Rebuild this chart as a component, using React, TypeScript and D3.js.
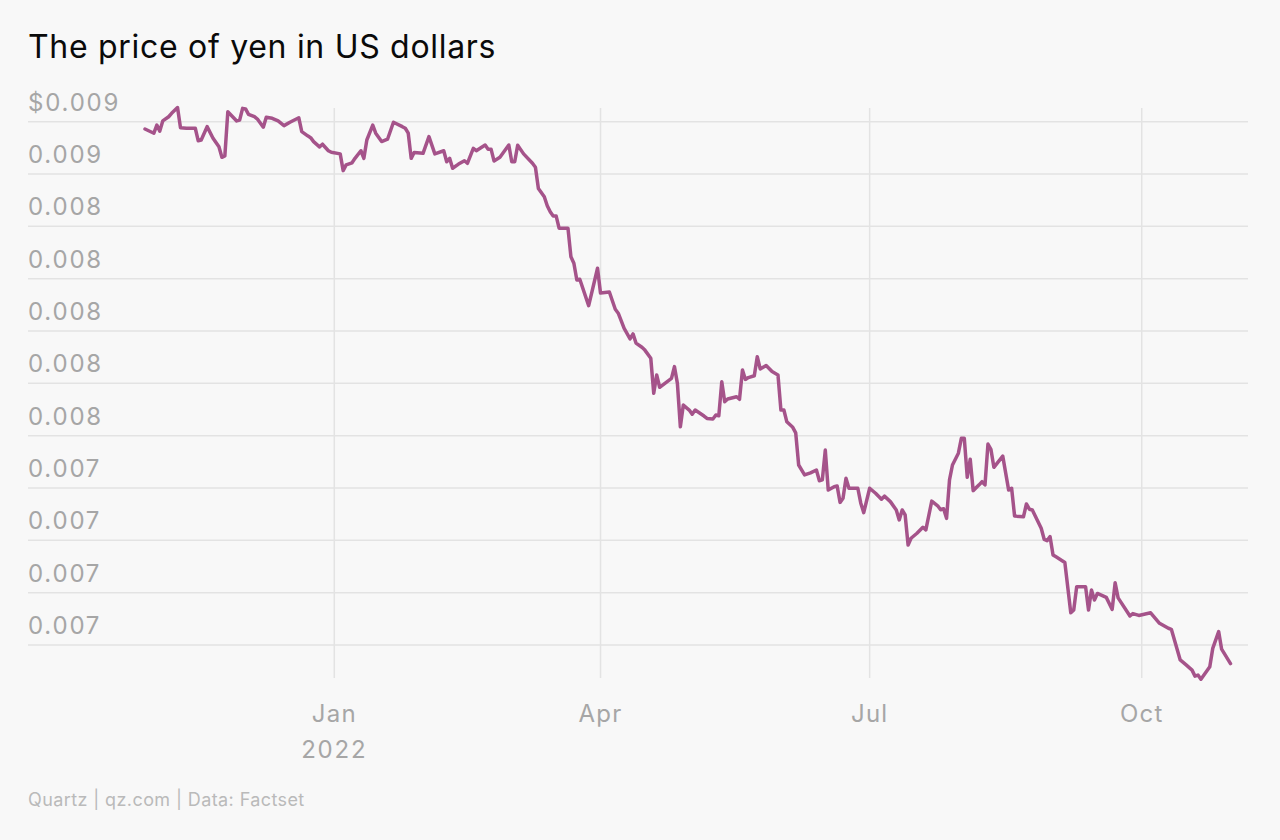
import React from "react";
import * as d3 from "d3";

const dates = [
  "2021-10-29","2021-11-01","2021-11-02","2021-11-03","2021-11-04","2021-11-06","2021-11-07","2021-11-09","2021-11-10","2021-11-12",
  "2021-11-15","2021-11-16","2021-11-17","2021-11-19","2021-11-21","2021-11-23","2021-11-24","2021-11-25","2021-11-26","2021-11-29",
  "2021-11-30","2021-12-01","2021-12-02","2021-12-03","2021-12-05","2021-12-06","2021-12-08","2021-12-09","2021-12-11","2021-12-13",
  "2021-12-15","2021-12-17","2021-12-20","2021-12-21","2021-12-23","2021-12-24","2021-12-25","2021-12-27","2021-12-28","2021-12-30",
  "2021-12-31","2022-01-03","2022-01-04","2022-01-05","2022-01-07","2022-01-08","2022-01-10","2022-01-11","2022-01-12","2022-01-14",
  "2022-01-15","2022-01-17","2022-01-19","2022-01-21","2022-01-24","2022-01-25","2022-01-26","2022-01-27","2022-01-28","2022-01-31",
  "2022-02-02","2022-02-04","2022-02-07","2022-02-08","2022-02-09","2022-02-10","2022-02-12","2022-02-14","2022-02-15","2022-02-17",
  "2022-02-18","2022-02-21","2022-02-22","2022-02-23","2022-02-24","2022-02-26","2022-03-01","2022-03-02","2022-03-03","2022-03-04",
  "2022-03-06","2022-03-09","2022-03-10","2022-03-11","2022-03-13","2022-03-14","2022-03-15","2022-03-16","2022-03-17","2022-03-18",
  "2022-03-21","2022-03-22","2022-03-23","2022-03-24","2022-03-25","2022-03-28","2022-03-31","2022-04-01","2022-04-04","2022-04-06",
  "2022-04-07","2022-04-09","2022-04-11","2022-04-12","2022-04-13","2022-04-15","2022-04-16","2022-04-18","2022-04-19","2022-04-20",
  "2022-04-21","2022-04-23","2022-04-25","2022-04-26","2022-04-27","2022-04-28","2022-04-29","2022-05-01","2022-05-02","2022-05-03",
  "2022-05-06","2022-05-07","2022-05-09","2022-05-10","2022-05-11","2022-05-12","2022-05-13","2022-05-14","2022-05-17","2022-05-18",
  "2022-05-19","2022-05-20","2022-05-21","2022-05-23","2022-05-24","2022-05-25","2022-05-27","2022-05-29","2022-05-31","2022-06-01",
  "2022-06-02","2022-06-03","2022-06-05","2022-06-06","2022-06-07","2022-06-09","2022-06-11","2022-06-13","2022-06-14","2022-06-15",
  "2022-06-16","2022-06-17","2022-06-19","2022-06-20","2022-06-21","2022-06-22","2022-06-23","2022-06-24","2022-06-27","2022-06-28",
  "2022-06-29","2022-07-01","2022-07-03","2022-07-05","2022-07-06","2022-07-08","2022-07-10","2022-07-11","2022-07-12","2022-07-13",
  "2022-07-14","2022-07-15","2022-07-17","2022-07-19","2022-07-20","2022-07-22","2022-07-24","2022-07-25","2022-07-26","2022-07-27",
  "2022-07-28","2022-07-29","2022-07-31","2022-08-01","2022-08-02","2022-08-03","2022-08-04","2022-08-05","2022-08-07","2022-08-08",
  "2022-08-09","2022-08-10","2022-08-11","2022-08-12","2022-08-15","2022-08-17","2022-08-18","2022-08-19","2022-08-22","2022-08-23",
  "2022-08-24","2022-08-25","2022-08-28","2022-08-29","2022-08-30","2022-08-31","2022-09-01","2022-09-02","2022-09-05","2022-09-07",
  "2022-09-08","2022-09-09","2022-09-12","2022-09-13","2022-09-14","2022-09-15","2022-09-16","2022-09-19","2022-09-21","2022-09-22",
  "2022-09-23","2022-09-27","2022-09-28","2022-09-30","2022-10-04","2022-10-07","2022-10-10","2022-10-11","2022-10-14","2022-10-16",
  "2022-10-18","2022-10-19","2022-10-20","2022-10-21","2022-10-24","2022-10-25","2022-10-27","2022-10-28","2022-10-31",
];

const values = [
  0.008772,0.008756,0.008787,0.008764,0.008803,0.008819,0.008832,0.008854,0.008777,0.008775,
  0.008775,0.008727,0.008730,0.008781,0.008737,0.008704,0.008664,0.008669,0.008838,0.008803,
  0.008806,0.008851,0.008849,0.008828,0.008819,0.008810,0.008779,0.008817,0.008813,0.008803,
  0.008785,0.008798,0.008815,0.008762,0.008746,0.008739,0.008724,0.008704,0.008714,0.008689,
  0.008683,0.008677,0.008613,0.008635,0.008643,0.008660,0.008689,0.008660,0.008730,0.008787,
  0.008756,0.008724,0.008733,0.008798,0.008781,0.008775,0.008756,0.008660,0.008682,0.008679,
  0.008743,0.008677,0.008689,0.008647,0.008660,0.008622,0.008638,0.008651,0.008641,0.008698,
  0.008689,0.008711,0.008695,0.008695,0.008650,0.008664,0.008711,0.008647,0.008647,0.008710,
  0.008677,0.008641,0.008626,0.008545,0.008513,0.008479,0.008456,0.008440,0.008440,0.008393,
  0.008393,0.008284,0.008259,0.008195,0.008198,0.008097,0.008240,0.008145,0.008149,0.008083,
  0.008068,0.008010,0.007970,0.007989,0.007954,0.007938,0.007927,0.007896,0.007762,0.007832,
  0.007785,0.007802,0.007819,0.007864,0.007800,0.007634,0.007717,0.007698,0.007682,0.007698,
  0.007675,0.007666,0.007664,0.007679,0.007676,0.007806,0.007730,0.007740,0.007749,0.007739,
  0.007851,0.007815,0.007822,0.007829,0.007902,0.007855,0.007868,0.007845,0.007832,0.007698,
  0.007698,0.007653,0.007632,0.007611,0.007488,0.007450,0.007458,0.007469,0.007428,0.007431,
  0.007545,0.007392,0.007405,0.007408,0.007345,0.007361,0.007437,0.007399,0.007399,0.007342,
  0.007306,0.007399,0.007380,0.007357,0.007369,0.007348,0.007316,0.007278,0.007316,0.007297,
  0.007182,0.007208,0.007227,0.007250,0.007240,0.007350,0.007332,0.007317,0.007321,0.007284,
  0.007431,0.007488,0.007533,0.007590,0.007590,0.007441,0.007510,0.007390,0.007412,0.007424,
  0.007412,0.007568,0.007548,0.007479,0.007522,0.007392,0.007399,0.007293,0.007290,0.007339,
  0.007319,0.007316,0.007246,0.007204,0.007199,0.007214,0.007144,0.007137,0.007115,0.006923,
  0.006934,0.007023,0.007023,0.006934,0.007010,0.006972,0.006997,0.006982,0.006936,0.007038,
  0.006980,0.006911,0.006920,0.006913,0.006923,0.006883,0.006864,0.006860,0.006743,0.006724,
  0.006704,0.006681,0.006685,0.006669,0.006717,0.006787,0.006851,0.006784,0.006729,
];

const yTickValues = [0.0088, 0.0086, 0.0084, 0.0082, 0.008, 0.0078, 0.0076, 0.0074, 0.0072, 0.007, 0.0068];
const xTickDates = ["2022-01-01", "2022-04-01", "2022-07-01", "2022-10-01"];
const xTickLabels = ["Jan", "Apr", "Jul", "Oct"];
const xYearLabel = "2022";
const title = "The price of yen in US dollars";
const source = "Quartz | qz.com | Data: Factset";

const FONT = "Inter, 'Helvetica Neue', Arial, sans-serif";

export default function App() {
  const parse = d3.timeParse("%Y-%m-%d");
  const data = dates.map((d, i) => ({ date: parse(d) as Date, value: values[i] }));

  const x = d3
    .scaleTime()
    .domain(d3.extent(data, (d) => d.date) as [Date, Date])
    .range([145, 1230.5]);
  const y = d3.scaleLinear().domain([0.0068, 0.0088]).range([645, 121.7]);

  const line = d3
    .line<{ date: Date; value: number }>()
    .x((d) => x(d.date))
    .y((d) => y(d.value));

  const fmt = d3.format(".3f");
  const gridLeft = 28;
  const gridRight = 1248;

  return (
    <svg
      width={1280}
      height={840}
      style={{ position: "absolute", left: 0, top: 0, display: "block" }}
    >
      <rect x={0} y={0} width={1280} height={840} fill="#f8f8f8" />
      <text x={28} y={58} fontFamily={FONT} fontSize={32} letterSpacing={0.7} fill="#0a0a0a">
        {title}
      </text>

      {yTickValues.map((v, i) => (
        <g key={"y" + i}>
          <line
            x1={gridLeft}
            x2={gridRight}
            y1={y(v)}
            y2={y(v)}
            stroke="#e3e3e3"
            strokeWidth={1.5}
          />
          <text
            x={gridLeft}
            y={y(v) - 11}
            fontFamily={FONT}
            fontSize={24}
            letterSpacing={1.8}
            fill="#a6a6a6"
          >
            {(i === 0 ? "$" : "") + fmt(v)}
          </text>
        </g>
      ))}

      {xTickDates.map((d, i) => {
        const xp = x(parse(d) as Date);
        return (
          <g key={"x" + i}>
            <line x1={xp} x2={xp} y1={108} y2={678} stroke="#e3e3e3" strokeWidth={1.5} />
            <text
              x={xp}
              y={722}
              textAnchor="middle"
              fontFamily={FONT}
              fontSize={24}
              letterSpacing={1.2}
              fill="#a6a6a6"
            >
              {xTickLabels[i]}
            </text>
            {i === 0 && (
              <text
                x={xp}
                y={758}
                textAnchor="middle"
                fontFamily={FONT}
                fontSize={24}
                letterSpacing={1.8}
                fill="#a6a6a6"
              >
                {xYearLabel}
              </text>
            )}
          </g>
        );
      })}

      <path
        d={line(data) || ""}
        fill="none"
        stroke="#a5538a"
        strokeWidth={3.5}
        strokeLinejoin="round"
        strokeLinecap="round"
      />

      <text x={28} y={806} fontFamily={FONT} fontSize={18} letterSpacing={0.4} fill="#bababa">
        {source}
      </text>
    </svg>
  );
}
